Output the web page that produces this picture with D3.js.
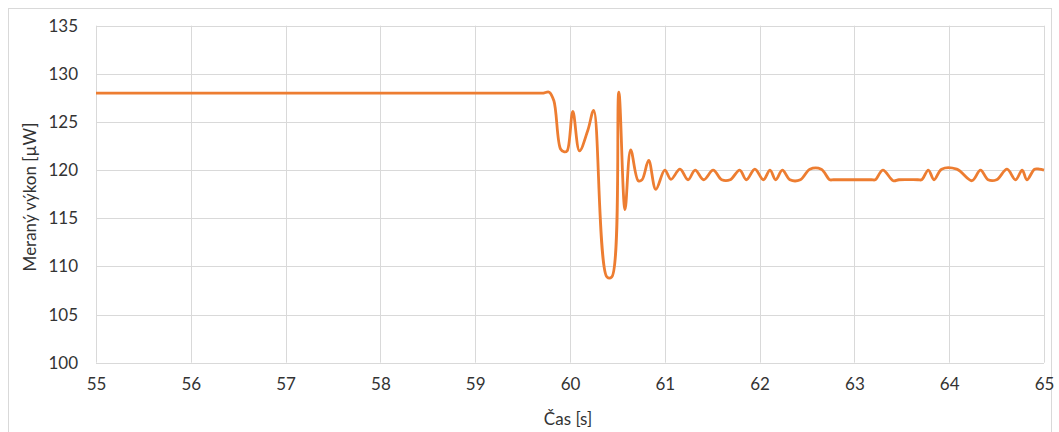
<!DOCTYPE html>
<html>
<head>
<meta charset="utf-8">
<script src="https://cdn.jsdelivr.net/npm/d3@7"></script>
<style>
  html, body { margin: 0; padding: 0; background: #fff; }
  svg { display: block; }
</style>
</head>
<body>
<svg id="chart" width="1059" height="432"></svg>
<script>
const times = [55, 59.68, 59.72, 59.78, 59.83, 59.9, 59.94, 59.97, 60.03, 60.1, 60.19, 60.25,
  60.39, 60.44, 60.515, 60.58, 60.64, 60.72, 60.76, 60.83, 60.905, 61.0, 61.065,
  61.16, 61.245, 61.32, 61.41, 61.51, 61.60, 61.69, 61.79, 61.86, 61.95, 62.04,
  62.11, 62.17, 62.24, 62.32, 62.43, 62.53, 62.65, 62.74, 62.78, 63.18, 63.22, 63.30, 63.41,
  63.47, 63.67, 63.71, 63.78, 63.84, 63.92, 64.08, 64.24, 64.33, 64.41, 64.50, 64.61,
  64.70, 64.77, 64.82, 64.90, 64.95, 65.0];
const power = [128, 128, 128, 128.1, 127.2, 122.2, 121.9, 122.0, 126.1, 122.0, 124.2, 126.2,
  108.9, 108.9, 128.1, 115.9, 122.1, 118.9, 119.0, 121.0, 118.0, 120.0, 119.05,
  120.1, 119.0, 120.0, 119.0, 120.0, 119.0, 119.0, 120.0, 119.0, 120.1, 119.0,
  120.0, 119.0, 120.0, 119.0, 119.0, 120.1, 120.1, 119.0, 119.0, 119.0, 119.0, 120.0, 118.9,
  119.0, 119.0, 119.0, 120.0, 119.0, 120.1, 120.1, 118.9, 120.0, 119.0, 119.0, 120.1,
  119.0, 120.0, 119.0, 120.1, 120.1, 120.0];
const xTicks = [55, 56, 57, 58, 59, 60, 61, 62, 63, 64, 65];
const yTicks = [100, 105, 110, 115, 120, 125, 130, 135];
const xLabel = "Čas [s]";
const yLabel = "Meraný výkon [µW]";

(function () {
const svg = d3.select("#chart");
const pLeft = 96, pRight = 1044, pTop = 25.7, pBottom = 362.7;
const font = "Lato, 'Open Sans', sans-serif";
const textColor = "#333333";

svg.append("rect").attr("x", 8.5).attr("y", 8.5).attr("width", 1043).attr("height", 430)
  .attr("fill", "#fff").attr("stroke", "#d9d9d9").attr("stroke-width", 1);

const x = d3.scaleLinear().domain([55, 65]).range([pLeft, pRight]);
const y = d3.scaleLinear().domain([100, 135]).range([pBottom, pTop]);

// gridlines
svg.append("g").selectAll("line").data(yTicks).join("line")
  .attr("x1", pLeft).attr("x2", pRight)
  .attr("y1", d => Math.round(y(d)) + 0.5).attr("y2", d => Math.round(y(d)) + 0.5)
  .attr("stroke", "#d9d9d9").attr("stroke-width", 1);
svg.append("g").selectAll("line").data(xTicks).join("line")
  .attr("y1", pTop).attr("y2", pBottom)
  .attr("x1", d => Math.round(x(d)) + 0.5).attr("x2", d => Math.round(x(d)) + 0.5)
  .attr("stroke", "#d9d9d9").attr("stroke-width", 1);

// axes (labels only)
const xAxis = svg.append("g").attr("transform", `translate(0,${pBottom})`)
  .call(d3.axisBottom(x).tickValues(xTicks).tickFormat(d3.format("d")).tickSize(0).tickPadding(15));
const yAxis = svg.append("g").attr("transform", `translate(${pLeft},0)`)
  .call(d3.axisLeft(y).tickValues(yTicks).tickFormat(d3.format("d")).tickSize(0).tickPadding(18));
[xAxis, yAxis].forEach(a => {
  a.select(".domain").remove();
  a.selectAll("text").attr("font-family", font).attr("font-size", 17).attr("fill", textColor);
});

// line
const line = d3.line()
  .x((d, i) => x(times[i]))
  .y(d => y(d))
  .curve(d3.curveCatmullRom.alpha(0.5));
svg.append("path").datum(power)
  .attr("d", line)
  .attr("fill", "none")
  .attr("stroke", "#ED7D31")
  .attr("stroke-width", 2.8)
  .attr("stroke-linejoin", "round");

// axis titles
svg.append("text").attr("x", 568).attr("y", 425)
  .attr("text-anchor", "middle").attr("font-family", font).attr("font-size", 17)
  .attr("fill", textColor).text(xLabel);
svg.append("text").attr("transform", "translate(36,197) rotate(-90)")
  .attr("text-anchor", "middle").attr("font-family", font).attr("font-size", 17)
  .attr("fill", textColor).text(yLabel);
})();
</script>
</body>
</html>
